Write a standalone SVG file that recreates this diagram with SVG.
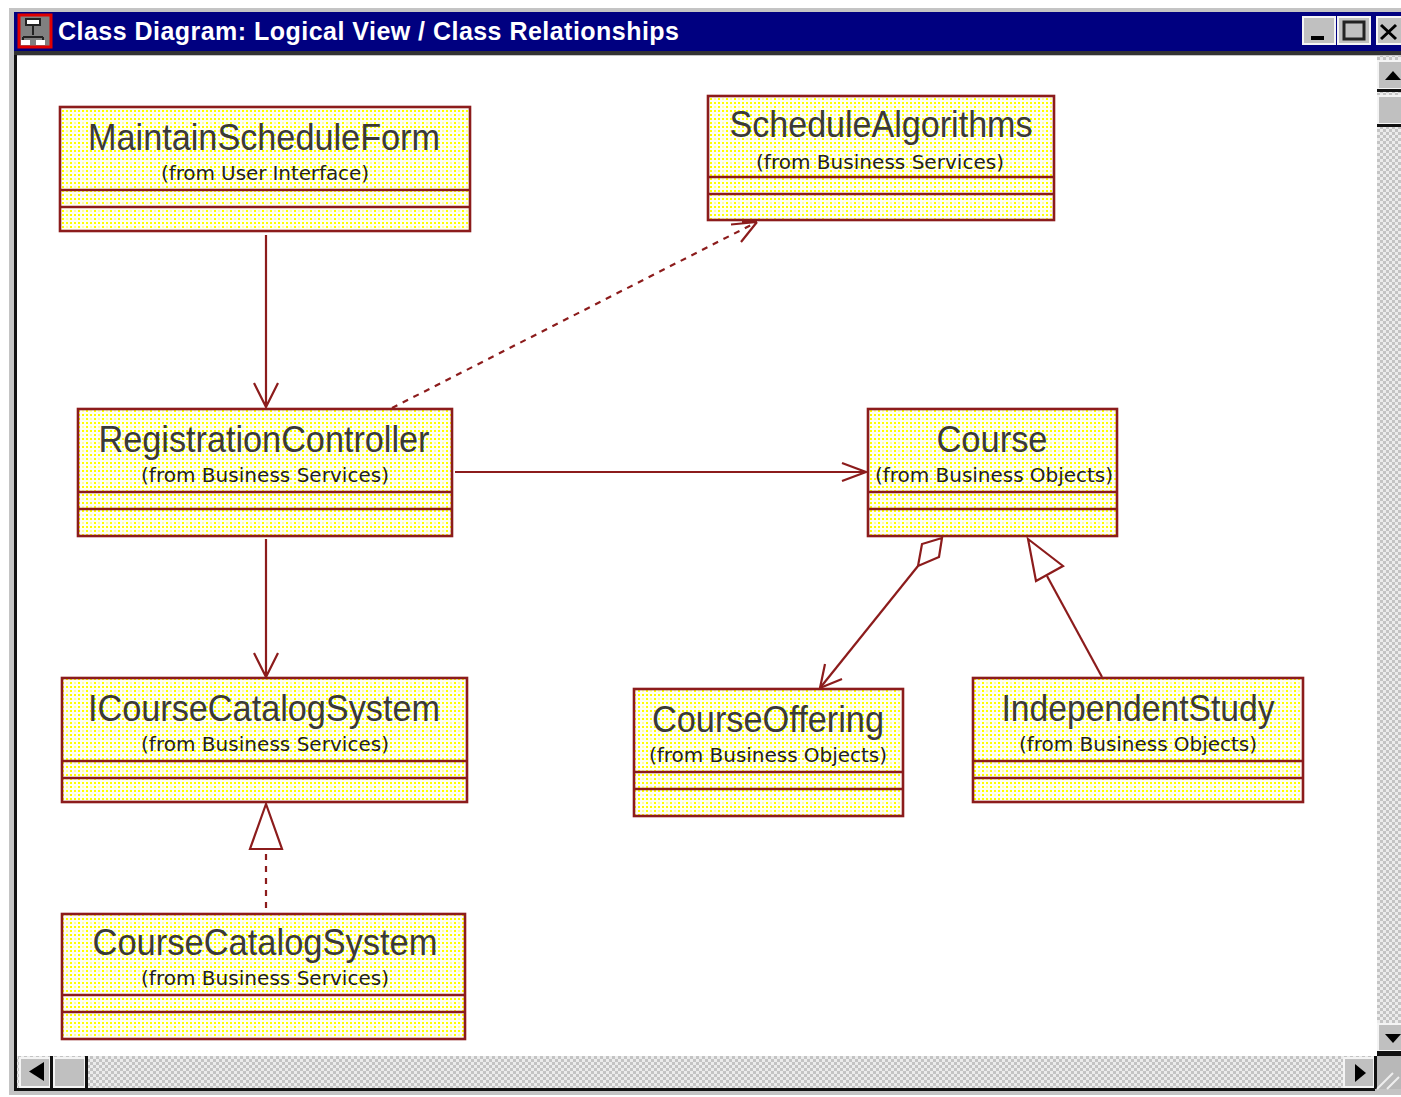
<svg xmlns="http://www.w3.org/2000/svg" width="1401" height="1097" viewBox="0 0 1401 1097">
<style>
.box{fill:url(#dots);stroke:#8c1c1c;stroke-width:2.6}
.sep{stroke:#8c1c1c;stroke-width:2.6;fill:none}
.n{font-family:"Liberation Sans",Arial,sans-serif;font-size:36px;fill:#3a3a3a;text-anchor:middle}
.f{font-family:"DejaVu Sans",sans-serif;font-size:20px;fill:#222;text-anchor:middle}
.c{stroke:#8c1c1c;stroke-width:2.2;fill:none}
.d{stroke-dasharray:6 6}
.btn{fill:#c0c0c0;stroke:#f4f4f4;stroke-width:2}
.blk{stroke:#111;stroke-width:3;fill:none}
.tr{fill:#000}
</style>
<defs>
<pattern id="dots" width="8" height="8" patternUnits="userSpaceOnUse" x="62" y="110">
<rect width="8" height="8" fill="#fffff4"/>
<rect x="0" y="0" width="2" height="2" fill="#ffff00"/>
<rect x="4" y="0" width="2" height="2" fill="#ffff00"/>
<rect x="0" y="4" width="2" height="2" fill="#ffff00"/>
<rect x="4" y="4" width="2" height="2" fill="#ffffa0"/>
</pattern>
<pattern id="gray" width="6" height="6" patternUnits="userSpaceOnUse">
<rect width="6" height="6" fill="#ececec"/><rect width="3" height="3" fill="#c4c4c4"/><rect x="3" y="3" width="3" height="3" fill="#c4c4c4"/>
</pattern>
</defs>
<rect width="1401" height="1097" fill="#fff"/>
<g id="window">
<rect x="9" y="8" width="1392" height="1087" fill="#c4c4c4"/>
<rect x="14" y="12" width="1387" height="39" fill="#000080"/>
<rect x="14" y="51" width="1387" height="4" fill="#333"/>
<rect x="14" y="55" width="3" height="1034" fill="#111"/>
<rect x="17" y="56" width="1360" height="1000" fill="#fff"/>
<rect x="19" y="15" width="32" height="32" fill="#808080" stroke="#e00000" stroke-width="3"/>
<path d="M26 19h14v6h-14zM33 25v10M23 37h20M23 37v4M43 37v4" fill="#fff" stroke="#222" stroke-width="2"/>
<rect x="21" y="40" width="9" height="5" fill="#fff"/><rect x="36" y="40" width="9" height="5" fill="#fff"/>
<text x="58" y="40" font-family="'Liberation Sans',Arial,sans-serif" font-size="25" font-weight="700" fill="#fff" textLength="621" lengthAdjust="spacing">Class Diagram: Logical View / Class Relationships</text>
<rect class="btn" x="1303" y="17" width="32" height="27"/><rect x="1311" y="36" width="13" height="4" fill="#000"/>
<rect class="btn" x="1338" y="17" width="32" height="27"/><rect x="1344" y="22" width="20" height="17" fill="none" stroke="#222" stroke-width="3"/>
<rect class="btn" x="1377" y="17" width="30" height="27"/><path d="M1381 25l15 14M1396 25l-15 14" stroke="#000" stroke-width="3"/>
<rect x="1377" y="56" width="24" height="1000" fill="url(#gray)"/>
<rect class="btn" x="1378" y="61" width="30" height="28"/><path d="M1385 80l8-9 8 9z" class="tr"/><rect x="1377" y="89" width="24" height="3" fill="#111"/>
<rect class="btn" x="1378" y="96" width="30" height="28"/><rect x="1377" y="124" width="24" height="3" fill="#111"/>
<rect class="btn" x="1378" y="1024" width="30" height="27"/><path d="M1385 1034l8 9 8-9z" class="tr"/><rect x="1377" y="1051" width="24" height="3" fill="#111"/>
<rect x="17" y="1056" width="1360" height="33" fill="url(#gray)"/>
<rect class="btn" x="20" y="1058" width="30" height="29"/><path d="M44 1062v19l-15-9.500z" class="tr"/>
<rect class="btn" x="54" y="1058" width="31" height="29"/><path d="M51.500 1056v33M86.500 1056v33" class="blk"/>
<rect class="btn" x="1344" y="1058" width="30" height="29"/><path d="M1355 1064v18l11-9z" class="tr"/><path d="M1375.500 1056v33" class="blk"/>
<path d="M14 1089.500h1361" class="blk"/>
<rect x="1377" y="1056" width="24" height="33" fill="#b8b8b8"/><path d="M1377 1089l16-16M1387 1089l12-12" stroke="#eee" stroke-width="2"/><path d="M1377 1054.500h24" class="blk"/>
</g>
<g id="MaintainScheduleForm"><rect class="box" x="60" y="107" width="410" height="124"/><path class="sep" d="M60 190H470M60 207H470"/><text class="n" x="264" y="150" textLength="352" lengthAdjust="spacingAndGlyphs">MaintainScheduleForm</text><text class="f" x="265" y="180" textLength="208" lengthAdjust="spacing">(from User Interface)</text></g>
<g id="ScheduleAlgorithms"><rect class="box" x="708" y="96" width="346" height="124"/><path class="sep" d="M708 177H1054M708 194H1054"/><text class="n" x="881" y="137" textLength="303" lengthAdjust="spacingAndGlyphs">ScheduleAlgorithms</text><text class="f" x="880" y="169" textLength="248" lengthAdjust="spacing">(from Business Services)</text></g>
<g id="RegistrationController"><rect class="box" x="78" y="409" width="374" height="127"/><path class="sep" d="M78 492H452M78 509H452"/><text class="n" x="264" y="452" textLength="331" lengthAdjust="spacingAndGlyphs">RegistrationController</text><text class="f" x="265" y="482" textLength="248" lengthAdjust="spacing">(from Business Services)</text></g>
<g id="Course"><rect class="box" x="868" y="409" width="249" height="127"/><path class="sep" d="M868 492H1117M868 509H1117"/><text class="n" x="992" y="452" textLength="111" lengthAdjust="spacingAndGlyphs">Course</text><text class="f" x="994" y="482" textLength="238" lengthAdjust="spacing">(from Business Objects)</text></g>
<g id="ICourseCatalogSystem"><rect class="box" x="62" y="678" width="405" height="124"/><path class="sep" d="M62 761H467M62 778H467"/><text class="n" x="264" y="721" textLength="352" lengthAdjust="spacingAndGlyphs">ICourseCatalogSystem</text><text class="f" x="265" y="751" textLength="248" lengthAdjust="spacing">(from Business Services)</text></g>
<g id="CourseOffering"><rect class="box" x="634" y="689" width="269" height="127"/><path class="sep" d="M634 772H903M634 789H903"/><text class="n" x="768" y="732" textLength="232" lengthAdjust="spacingAndGlyphs">CourseOffering</text><text class="f" x="768" y="762" textLength="238" lengthAdjust="spacing">(from Business Objects)</text></g>
<g id="IndependentStudy"><rect class="box" x="973" y="678" width="330" height="124"/><path class="sep" d="M973 761H1303M973 778H1303"/><text class="n" x="1138" y="721" textLength="273" lengthAdjust="spacingAndGlyphs">IndependentStudy</text><text class="f" x="1138" y="751" textLength="238" lengthAdjust="spacing">(from Business Objects)</text></g>
<g id="CourseCatalogSystem"><rect class="box" x="62" y="914" width="403" height="125"/><path class="sep" d="M62 995H465M62 1012H465"/><text class="n" x="265" y="955" textLength="345" lengthAdjust="spacingAndGlyphs">CourseCatalogSystem</text><text class="f" x="265" y="985" textLength="248" lengthAdjust="spacing">(from Business Services)</text></g>
<g id="connectors">
<path class="c" d="M266 235V407M254 383l12 24 12-24"/>
<path class="c d" d="M392 408L755 223"/>
<path class="c" d="M742 221.500H757M731 224.500L757 222M741 242L757 222"/>
<path class="c" d="M455 472H866M842 463l24 9-24 9"/>
<path class="c" d="M266 539V677M254 653l12 24 12-24"/>
<path class="c" d="M918 566L820 688"/>
<path class="c" d="M825 664l-5 24 22-9"/>
<path class="c" d="M942 538l-20 6-4 22 21-9z"/>
<path class="c" d="M1102 677L1047 576"/>
<path class="c" d="M1028 539l35 27-27 15z"/>
<path class="c" d="M266 804L250 849H282Z"/>
<path class="c d" d="M266 854V914"/>
</g>
</svg>
